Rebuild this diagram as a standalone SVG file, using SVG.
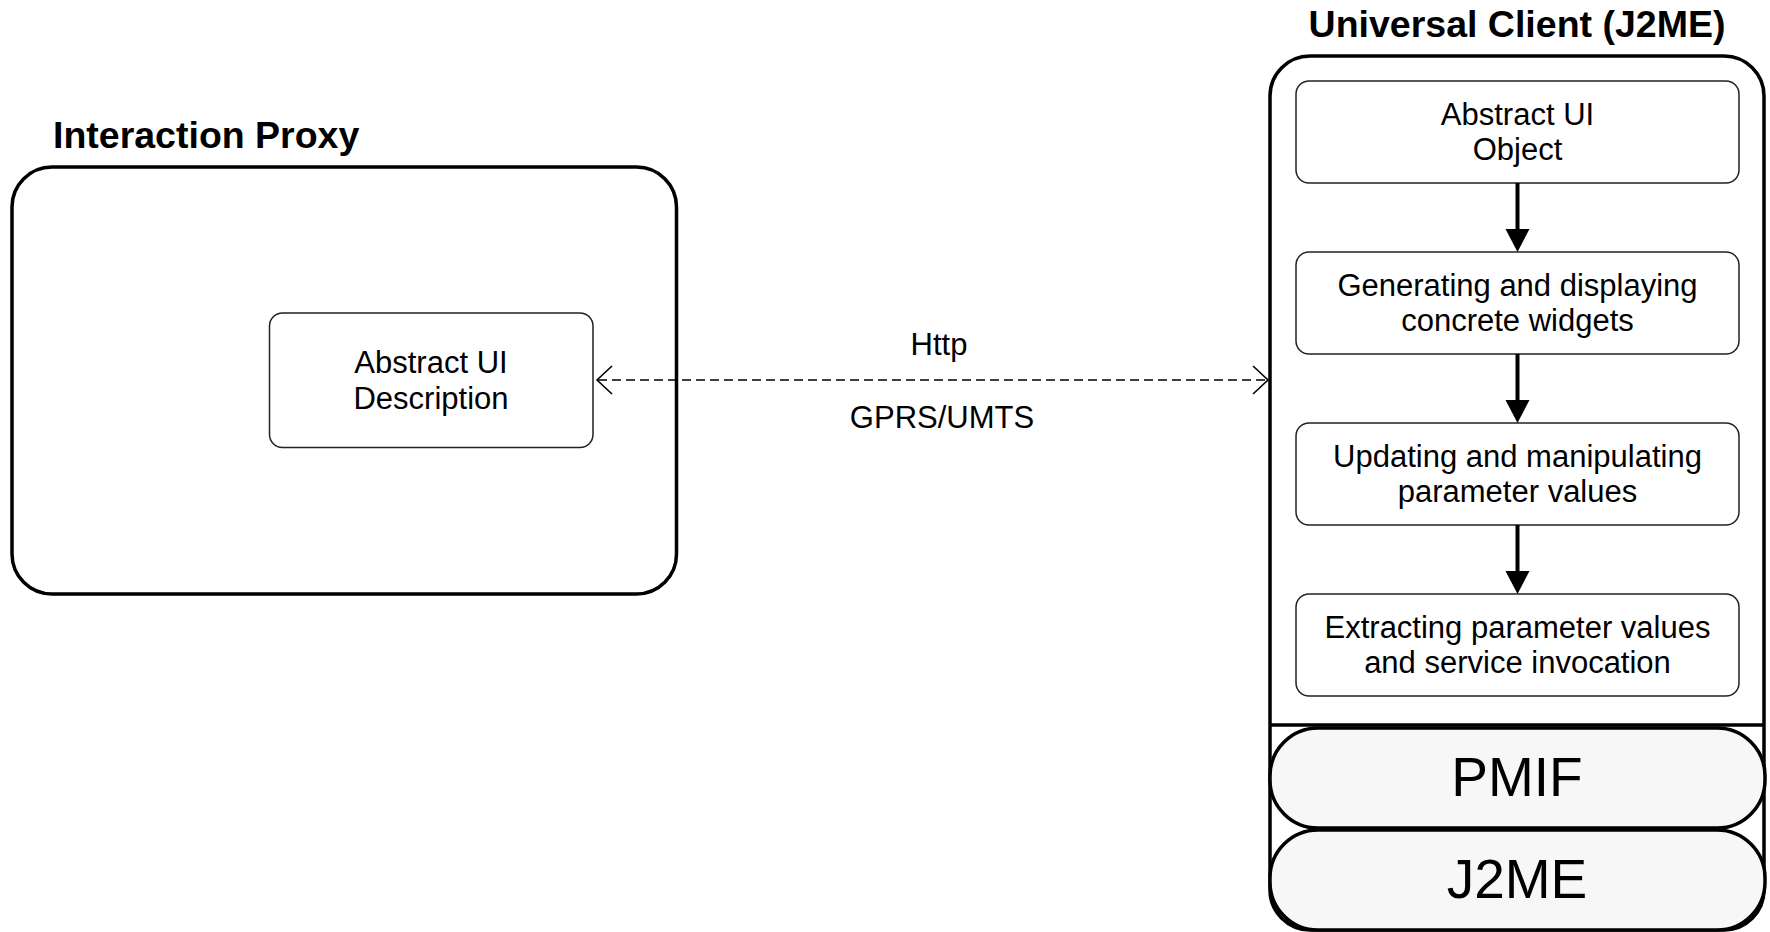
<svg xmlns="http://www.w3.org/2000/svg" width="1770" height="932" viewBox="0 0 1770 932">
<style>
text{font-family:"Liberation Sans",Arial,sans-serif;fill:#000}
.title{font-size:37.5px;font-weight:bold}
.lbl{font-size:31px;text-anchor:middle}
.big{font-size:55px;text-anchor:middle}
.frame{fill:#fff;stroke:#000;stroke-width:3.5}
.box{fill:#fff;stroke:#222;stroke-width:1.5}
.pill{fill:#f7f7f7;stroke:#000;stroke-width:3.5}
.flow{stroke:#000;stroke-width:4;fill:none}
.dash{stroke:#000;stroke-width:1.7;fill:none;stroke-dasharray:9 5}
.chev{stroke:#000;stroke-width:1.6;fill:none}
</style>
<rect width="1770" height="932" fill="#fff"/>
<g id="interaction-proxy">
<text class="title" x="53" y="148">Interaction Proxy</text>
<rect class="frame" x="12" y="167" width="664.5" height="427" rx="40"/>
</g>
<g id="abstract-ui-description">
<rect class="box" x="269.5" y="313" width="323.5" height="134.5" rx="13"/>
<text class="lbl" x="431" y="373">Abstract UI</text>
<text class="lbl" x="431" y="409">Description</text>
</g>
<g id="universal-client">
<text class="title" x="1517" y="37" text-anchor="middle">Universal Client (J2ME)</text>
<rect class="frame" x="1270" y="56" width="494" height="874" rx="40"/>
<line x1="1270" y1="725" x2="1764" y2="725" stroke="#000" stroke-width="3.5"/>
</g>
<g id="abstract-ui-object">
<rect class="box" x="1296" y="81" width="443" height="102" rx="13"/>
<text class="lbl" x="1517.5" y="125">Abstract UI</text>
<text class="lbl" x="1517.5" y="160">Object</text>
</g>
<g id="generating">
<rect class="box" x="1296" y="252" width="443" height="102" rx="13"/>
<text class="lbl" x="1517.5" y="296">Generating and displaying</text>
<text class="lbl" x="1517.5" y="331">concrete widgets</text>
</g>
<g id="updating">
<rect class="box" x="1296" y="423" width="443" height="102" rx="13"/>
<text class="lbl" x="1517.5" y="467">Updating and manipulating</text>
<text class="lbl" x="1517.5" y="502">parameter values</text>
</g>
<g id="extracting">
<rect class="box" x="1296" y="594" width="443" height="102" rx="13"/>
<text class="lbl" x="1517.5" y="638">Extracting parameter values</text>
<text class="lbl" x="1517.5" y="673">and service invocation</text>
</g>
<g id="pmif">
<rect class="pill" x="1270" y="728" width="495" height="100" rx="48"/>
<text class="big" x="1517" y="796">PMIF</text>
</g>
<g id="j2me">
<rect class="pill" x="1270" y="830" width="495" height="100" rx="48"/>
<text class="big" x="1517" y="898">J2ME</text>
</g>
<g id="connectors">
<line class="dash" x1="598" y1="380" x2="1267" y2="380"/>
<polyline class="chev" points="612,366 597,380 612,394"/>
<polyline class="chev" points="1253,366 1268,380 1253,394"/>
<text class="lbl" x="939" y="355">Http</text>
<text class="lbl" x="942" y="428">GPRS/UMTS</text>
<line class="flow" x1="1517.5" y1="183" x2="1517.5" y2="230"/>
<polygon points="1505.5,229 1529.5,229 1517.5,252"/>
<line class="flow" x1="1517.5" y1="354" x2="1517.5" y2="401"/>
<polygon points="1505.5,400 1529.5,400 1517.5,423"/>
<line class="flow" x1="1517.5" y1="525" x2="1517.5" y2="572"/>
<polygon points="1505.5,571 1529.5,571 1517.5,594"/>
</g>
</svg>
